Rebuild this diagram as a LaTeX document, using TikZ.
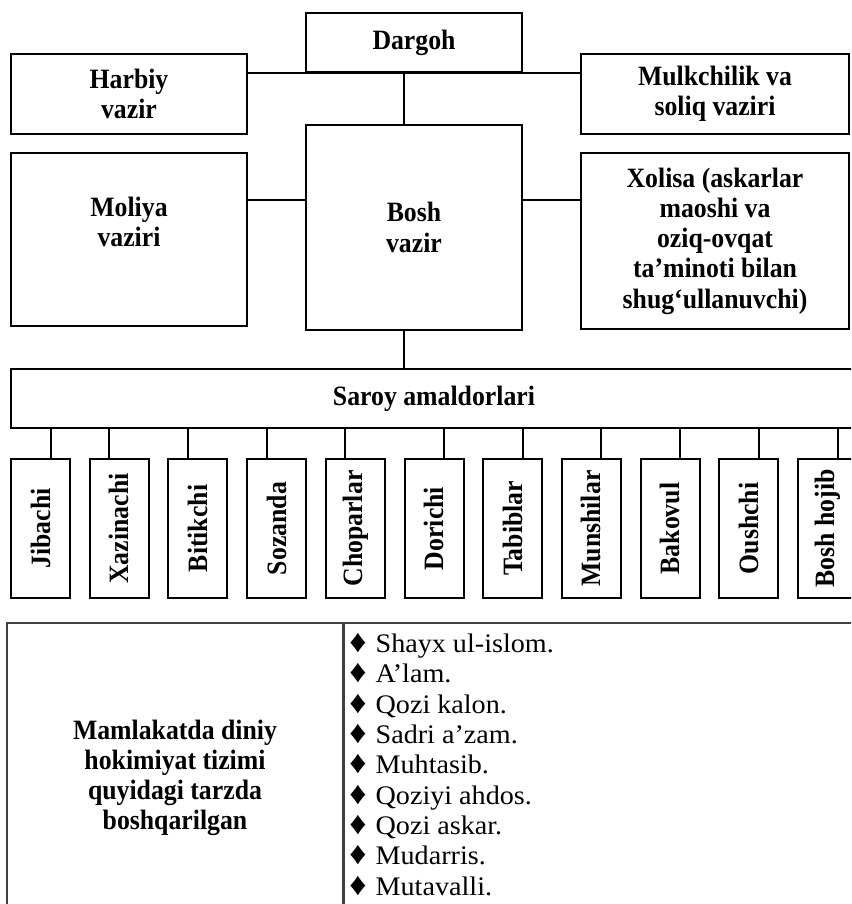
\documentclass[tikz,border=0pt]{standalone}
\usepackage{fontspec}
\setmainfont{Liberation Serif}
\newfontfamily\boxfont[FakeStretch=0.92]{Liberation Serif}
\newfontfamily\listfont[FakeStretch=1.05]{Liberation Serif}
\newcommand{\dinbullet}{\scalebox{1.2}{♦}\hspace{4.5pt}}
\begin{document}
\begin{tikzpicture}[x=0.5pt,y=-0.5pt,
  box/.style={rectangle, draw=black, line width=1pt, inner sep=0pt, align=center,
    font=\boxfont\bfseries\fontsize{14}{15.15}\selectfont},
  link/.style={line width=1pt},
  cell/.style={rectangle, draw=black!75, line width=0.6pt, inner sep=0pt}]

  \clip (0,0) rectangle (851,904);

  % top row
  \node[box, minimum width=108pt, minimum height=29.5pt] (dargoh) at (414, 42.5) {Dargoh};
  \node[box, minimum width=118pt, minimum height=40pt] (harbiy) at (129, 94) {Harbiy\\vazir};
  \node[box, minimum width=134pt, minimum height=40pt] (mulk) at (715, 94) {Mulkchilik va\\soliq vaziri};

  % middle row
  \node[box, minimum width=118pt, minimum height=86.5pt] (moliya) at (129, 239.5) {};
  \node[box, draw=none] (moliyatext) at (129, 222) {Moliya\\vaziri};
  \node[box, minimum width=108pt, minimum height=102.5pt] (bosh) at (414, 227.5) {Bosh\\vazir};
  \node[box, minimum width=134pt, minimum height=88pt] (xolisa) at (715, 241)
    {Xolisa (askarlar\\maoshi va\\oziq-ovqat\\ta’minoti bilan\\shug‘ullanuvchi)};

  \coordinate (spine) at (404, 0);
  \coordinate (midrow) at (0, 200);
  \draw[link] (harbiy.east |- dargoh.south) -- (mulk.west |- dargoh.south);
  \draw[link] (spine |- dargoh.south) -- (spine |- bosh.north);
  \draw[link] (moliya.east |- midrow) -- (bosh.west |- midrow);
  \draw[link] (bosh.east |- midrow) -- (xolisa.west |- midrow);

  % saroy amaldorlari
  \node[box, minimum width=423pt, minimum height=29.5pt] (saroy) at (434, 398.5) {Saroy amaldorlari};
  \draw[link] (spine |- bosh.south) -- (spine |- saroy.north);

  \foreach \name/\off [count=\i from 0] in {Jibachi/1, Xazinachi/-1, Bitikchi/-1, Sozanda/-1,
      Choparlar/-1, Dorichi/1, Tabiblar/1, Munshilar/1, Bakovul/1, Oushchi/1, Bosh hojib/1}{
    \pgfmathsetmacro\cx{40.5+78.7*\i}
    \pgfmathsetmacro\tx{\cx+10*\off}
    \node[box, minimum width=29.5pt, minimum height=69.5pt] (amal\i) at (\cx, 528.5) {\rotatebox{90}{\name}};
    \coordinate (tap\i) at (\tx, 0);
    \draw[link] (tap\i |- saroy.south) -- (tap\i |- amal\i.north);
  }

  % diniy hokimiyat jadvali
  \node[cell, minimum width=168pt, minimum height=155pt, align=center,
    font=\boxfont\bfseries\fontsize{14}{15}\selectfont] (dini) at (175, 778)
    {Mamlakatda diniy\\hokimiyat tizimi\\quyidagi tarzda\\boshqarilgan};
  \node[cell, anchor=north west, minimum width=270pt, minimum height=155pt] (dinlist) at (dini.north east) {};
  \node[anchor=base west, inner sep=0pt, align=left,
    font=\listfont\fontsize{13.4}{15.15}\selectfont] (items) at (349, 895)
    {\dinbullet Shayx ul-islom.\\
     \dinbullet A’lam.\\
     \dinbullet Qozi kalon.\\
     \dinbullet Sadri a’zam.\\
     \dinbullet Muhtasib.\\
     \dinbullet Qoziyi ahdos.\\
     \dinbullet Qozi askar.\\
     \dinbullet Mudarris.\\
     \dinbullet Mutavalli.};
\end{tikzpicture}
\end{document}
